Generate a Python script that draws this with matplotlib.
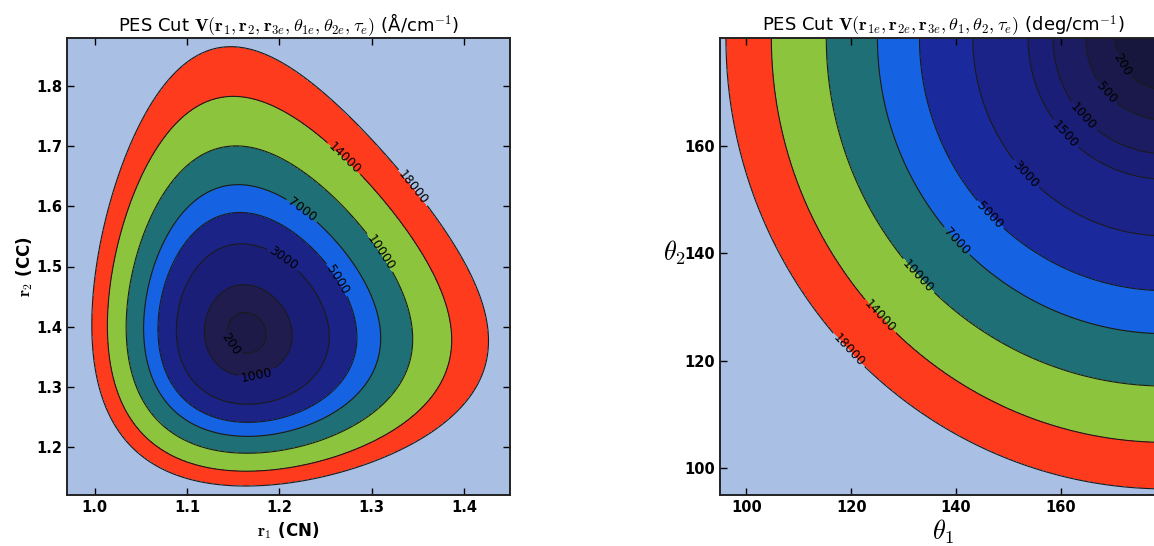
import numpy as np
import matplotlib
matplotlib.use("Agg")
import matplotlib.pyplot as plt

plt.rcParams['mathtext.fontset'] = 'cm'
plt.rcParams['font.family'] = ['DejaVu Sans']

# ---------------- data ----------------
# Left panel: stretch cut V(r1, r2) in cm^-1, Morse-type model
r1_range = [0.97, 1.45]
r2_range = [1.12, 1.88]
r1_eq, r2_eq = 1.164, 1.3885          # equilibrium bond lengths (Å)
D1, a1 = 97350.0, 2.142               # CN Morse depth / range
D2, a2 = 55400.0, 1.779               # CC Morse depth / range
c12 = 6000.0                          # stretch-stretch coupling
c122 = 11000.0                        # higher-order coupling
left_levels = [200, 1000, 3000, 5000, 7000, 10000, 14000, 18000]
left_colors = ['#1d1a48', '#201c4e', '#1b1e76', '#1b2486', '#1563e2',
               '#1f6f76', '#8cc53d', '#ff3b1e', '#a9c0e4']
left_xticks = [1.0, 1.1, 1.2, 1.3, 1.4]
left_yticks = [1.2, 1.3, 1.4, 1.5, 1.6, 1.7, 1.8]
left_label_pos = [(1.148, 1.372), (1.176, 1.318), (1.203, 1.510), (1.262, 1.477),
                  (1.2245, 1.593), (1.3096, 1.523), (1.273, 1.685), (1.348, 1.635)]

# Right panel: bend cut V(theta1, theta2) in cm^-1
th_range = [95, 180]
th1_eq, th2_eq = 180.0, 180.0
k2 = 2.13                              # quadratic bend constant (cm^-1/deg^2)
k4 = 6.1e-5                            # quartic correction
right_levels = [200, 500, 1000, 1500, 3000, 5000, 7000, 10000, 14000, 18000]
right_colors = ['#17163c', '#1b194c', '#1c1c62', '#1b1e76', '#1b2388', '#1a2a9c',
                '#1563e2', '#1f6f76', '#8cc53d', '#ff3b1e', '#a9c0e4']
right_ticks = [100, 120, 140, 160]
right_label_pos = [(173.2, 175.9), (169.4, 170.4), (164.7, 165.7), (159.3, 160.7),
                   (153.8, 155.2), (147.1, 147.8), (139.8, 142.0), (134.1, 137.0),
                   (125.5, 128.1), (119.4, 121.9)]

# ---------------- surfaces ----------------
r1 = np.linspace(r1_range[0], r1_range[1], 500)
r2 = np.linspace(r2_range[0], r2_range[1], 500)
R1, R2 = np.meshgrid(r1, r2)
y1 = 1 - np.exp(-a1 * (R1 - r1_eq))
y2 = 1 - np.exp(-a2 * (R2 - r2_eq))
VL = D1 * y1**2 + D2 * y2**2 + c12 * y1 * y2 + c122 * y1 * y2**2

th = np.linspace(th_range[0], th_range[1], 500)
T1, T2 = np.meshgrid(th, th)
rho2 = (T1 - th1_eq)**2 + (T2 - th2_eq)**2
VR = k2 * rho2 + k4 * rho2**2

# ---------------- figure ----------------
fig = plt.figure(figsize=(11.54, 5.46), dpi=100)
axL = fig.add_axes([67/1154, 51/546, 443/1154, 457/546])
axR = fig.add_axes([720/1154, 51/546, 446/1154, 457/546])

def draw(ax, X, Y, V, levels, colors, label_pos, xr, yr):
    big = max(V.max(), levels[-1] * 10)
    fl = [min(V.min(), 0) - 1] + list(levels) + [big]
    ax.contourf(X, Y, V, levels=fl, colors=colors)
    cs = ax.contour(X, Y, V, levels=levels, colors='#1a1a1a', linewidths=0.8)
    # snap each wanted label spot onto its own level's line
    sx, sy = xr[1] - xr[0], yr[1] - yr[0]
    spots = []
    for i, pos in enumerate(label_pos):
        segs = [s for s in cs.allsegs[i] if len(s)]
        pts = np.concatenate(segs)
        d = ((pts[:, 0] - pos[0]) / sx)**2 + ((pts[:, 1] - pos[1]) / sy)**2
        spots.append(tuple(pts[np.argmin(d)]))
    ax.clabel(cs, levels, fmt='%d', fontsize=9, inline=True, inline_spacing=3,
              manual=spots, colors='black')
    for s in ax.spines.values():
        s.set_linewidth(1.4)
        s.set_color('#222222')
    ax.tick_params(direction='in', top=True, right=True, length=5, width=1,
                   labelsize=10.5)

axL.set_xlim(r1_range)
axL.set_ylim(r2_range)
draw(axL, R1, R2, VL, left_levels, left_colors, left_label_pos, r1_range, r2_range)
axL.set_xlim(r1_range)
axL.set_ylim(r2_range)
axL.set_xticks(left_xticks)
axL.set_yticks(left_yticks)
for lab in axL.get_xticklabels() + axL.get_yticklabels():
    lab.set_fontweight('bold')
axL.set_title(r'PES Cut $\mathbf{V}(\mathbf{r}_1,\mathbf{r}_2,\mathbf{r}_{3e},\theta_{1e},\theta_{2e},\tau_e)$ (Å/cm$^{-1}$)',
              fontsize=13, pad=5)
axL.set_xlabel(r'$\mathbf{r}_1$ (CN)', fontsize=12, fontweight='bold', labelpad=4)
axL.set_ylabel(r'$\mathbf{r}_2$ (CC)', fontsize=12, fontweight='bold', va='center')
axL.yaxis.set_label_coords(-0.095, 0.5)

axR.set_xlim(th_range)
axR.set_ylim(th_range)
draw(axR, T1, T2, VR, right_levels, right_colors, right_label_pos, th_range, th_range)
axR.set_xlim(th_range)
axR.set_ylim(th_range)
axR.set_xticks(right_ticks)
axR.set_yticks(right_ticks)
for lab in axR.get_xticklabels() + axR.get_yticklabels():
    lab.set_fontweight('bold')
axR.set_title(r'PES Cut $\mathbf{V}(\mathbf{r}_{1e},\mathbf{r}_{2e},\mathbf{r}_{3e},\theta_1,\theta_2,\tau_e)$ (deg/cm$^{-1}$)',
              fontsize=13, pad=5)
axR.set_xlabel(r'$\theta_1$', fontsize=19, labelpad=2)
axR.set_ylabel(r'$\theta_2$', fontsize=19, rotation=0, ha='right', va='center')
axR.yaxis.set_label_coords(-0.077, 0.53)

fig.savefig('out.png', dpi=100)
